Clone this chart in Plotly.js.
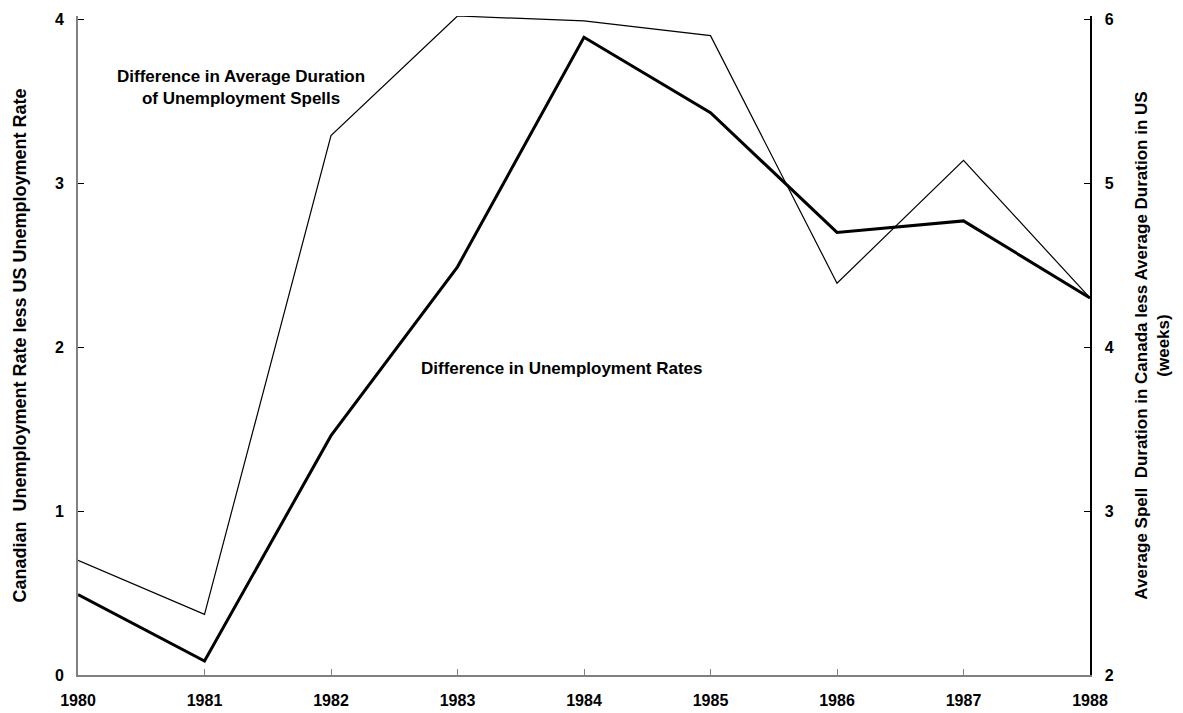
<!DOCTYPE html>
<html>
<head>
<meta charset="utf-8">
<script src="https://cdn.plot.ly/plotly-3.0.1.min.js"></script>
<style>html,body{margin:0;padding:0;background:#fff;}#chart{width:1183px;height:713px;}</style>
</head>
<body>
<div id="chart"></div>
<script>
var years = [1980, 1981, 1982, 1983, 1984, 1985, 1986, 1987, 1988];
var rateDiff = [0.49, 0.085, 1.46, 2.49, 3.89, 3.43, 2.70, 2.77, 2.30];
var durationDiff = [2.70, 2.37, 5.29, 6.02, 5.99, 5.90, 4.39, 5.14, 4.30];
var leftTicks = [0, 1, 2, 3, 4];
var rightTicks = [2, 3, 4, 5, 6];

var fontFam = 'Liberation Sans, Arial, sans-serif';
function bf(size) { return {family: fontFam, size: size, color: '#000', weight: 'bold'}; }

var traces = [
  {x: years, y: rateDiff, type: 'scatter', mode: 'lines', yaxis: 'y',
   line: {color: '#000', width: 3}, hoverinfo: 'x+y'},
  {x: years, y: durationDiff, type: 'scatter', mode: 'lines', yaxis: 'y2',
   line: {color: '#000', width: 1.2}, hoverinfo: 'x+y'}
];

var layout = {
  width: 1183, height: 713,
  margin: {l: 78, r: 93, t: 16, b: 38},
  paper_bgcolor: '#fff', plot_bgcolor: '#fff',
  showlegend: false,
  font: bf(16),
  xaxis: {
    range: [1980, 1988], tickvals: years, ticktext: years.map(String),
    showgrid: false, zeroline: false, showline: true, linecolor: '#808080', linewidth: 2,
    ticks: 'inside', ticklen: 6, tickcolor: '#808080', tickwidth: 1,
    tickfont: bf(16), ticklabelstandoff: 10
  },
  yaxis: {
    range: [0, 4.02], tickvals: leftTicks, ticktext: leftTicks.map(String),
    showgrid: false, zeroline: false, showline: true, linecolor: '#808080', linewidth: 2,
    ticks: 'inside', ticklen: 6, tickcolor: '#000', tickwidth: 1,
    tickfont: bf(16), ticklabelstandoff: 9,
    title: {text: 'Canadian  Unemployment Rate less US Unemployment Rate',
            font: bf(18), standoff: 24}
  },
  yaxis2: {
    overlaying: 'y', side: 'right', anchor: 'x',
    range: [2, 6.02], tickvals: rightTicks, ticktext: rightTicks.map(String),
    showgrid: false, zeroline: false, showline: true, linecolor: '#000', linewidth: 1.5,
    ticks: 'inside', ticklen: 6, tickcolor: '#000', tickwidth: 1,
    tickfont: bf(16), ticklabelstandoff: 10,
    title: {text: 'Average Spell  Duration in Canada less Average Duration in US<br>(weeks)',
            font: bf(17), standoff: 22}
  },
  annotations: [
    {x: 1981.289, y: 3.581, xref: 'x', yref: 'y', showarrow: false,
     xanchor: 'center', yanchor: 'middle',
     text: 'Difference in Average Duration<br>of Unemployment Spells', align: 'center',
     font: bf(17)},
    {x: 1982.696, y: 1.872, xref: 'x', yref: 'y', showarrow: false,
     xanchor: 'left', yanchor: 'middle',
     text: 'Difference in Unemployment Rates',
     font: bf(17)}
  ]
};

Plotly.newPlot('chart', traces, layout, {displayModeBar: false, staticPlot: true});
</script>
</body>
</html>
